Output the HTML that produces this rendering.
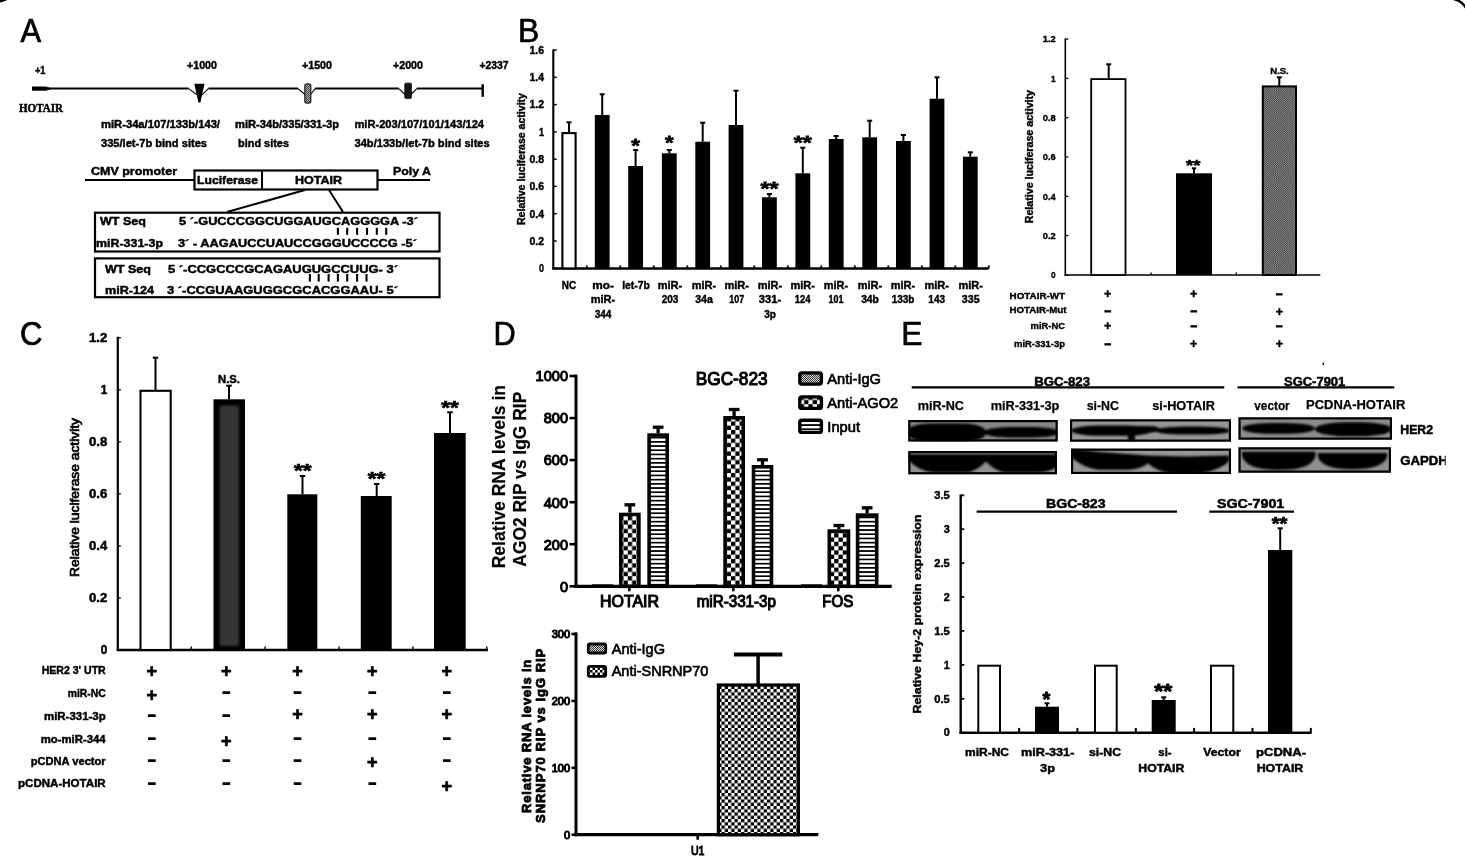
<!DOCTYPE html>
<html><head><meta charset="utf-8"><title>Figure</title>
<style>html,body{margin:0;padding:0;background:#fff}body{width:1465px;height:867px;overflow:hidden}svg{display:block}text{fill:#000}</style>
</head><body>
<svg width="1465" height="867" viewBox="0 0 1465 867">
<rect width="1465" height="867" fill="#fff"/>
<defs>
<filter id="blur12" x="-10%" y="-20%" width="120%" height="140%"><feGaussianBlur stdDeviation="1.3"/></filter>
<filter id="blur1" x="-10%" y="-10%" width="120%" height="120%"><feGaussianBlur stdDeviation="1"/></filter>
<pattern id="hatchA" width="2" height="2" patternUnits="userSpaceOnUse"><rect width="2" height="2" fill="#aaa"/><rect width="1" height="1" fill="#444"/><rect x="1" y="1" width="1" height="1" fill="#444"/></pattern>
<pattern id="hatchB" width="2.2" height="2.2" patternUnits="userSpaceOnUse"><rect width="2.2" height="2.2" fill="#a6a6a6"/><rect width="1.1" height="1.1" fill="#2a2a2a"/><rect x="1.1" y="1.1" width="1.1" height="1.1" fill="#2a2a2a"/></pattern>
<pattern id="igg" width="2" height="2" patternUnits="userSpaceOnUse"><rect width="2" height="2" fill="#ddd"/><rect width="1" height="1" fill="#333"/><rect x="1" y="1" width="1" height="1" fill="#333"/></pattern>
<pattern id="chk4" width="8.6" height="8.6" patternUnits="userSpaceOnUse"><rect width="8.6" height="8.6" fill="#fff"/><rect width="4.3" height="4.3" fill="#000"/><rect x="4.3" y="4.3" width="4.3" height="4.3" fill="#000"/></pattern>
<pattern id="chk2" width="6.5" height="6.5" patternUnits="userSpaceOnUse"><rect width="6.5" height="6.5" fill="#fff"/><rect width="3.25" height="3.25" fill="#000"/><rect x="3.25" y="3.25" width="3.25" height="3.25" fill="#000"/></pattern>
<pattern id="chk2b" width="5" height="5" patternUnits="userSpaceOnUse"><rect width="5" height="5" fill="#fff"/><rect width="2.5" height="2.5" fill="#000"/><rect x="2.5" y="2.5" width="2.5" height="2.5" fill="#000"/></pattern>
<pattern id="stripes" width="4.2" height="4.2" patternUnits="userSpaceOnUse"><rect width="4.2" height="4.2" fill="#fff"/><rect width="4.2" height="1.7" fill="#000"/></pattern>
</defs>
<path d="M-2,1.5 Q3,1 7,-1" fill="none" stroke="#000" stroke-width="2.4"/>
<path d="M1454,-1 Q1462,1 1466,8" fill="none" stroke="#000" stroke-width="2.4"/>
<g id="panelA">
<text x="20.4" y="41.9" font-size="33.2" font-weight="normal" font-family='"Liberation Sans", sans-serif' textLength="20.6" lengthAdjust="spacingAndGlyphs" stroke="#000" stroke-width="0.7">A</text>
<text x="35.0" y="74.3" font-size="10.5" font-weight="bold" font-family='"Liberation Sans", sans-serif' textLength="10.5" lengthAdjust="spacingAndGlyphs" stroke="#000" stroke-width="0.42">+1</text>
<text x="187.0" y="69.3" font-size="10.5" font-weight="bold" font-family='"Liberation Sans", sans-serif' textLength="30.0" lengthAdjust="spacingAndGlyphs" stroke="#000" stroke-width="0.42">+1000</text>
<text x="302.0" y="69.3" font-size="10.5" font-weight="bold" font-family='"Liberation Sans", sans-serif' textLength="30.0" lengthAdjust="spacingAndGlyphs" stroke="#000" stroke-width="0.42">+1500</text>
<text x="393.0" y="69.3" font-size="10.5" font-weight="bold" font-family='"Liberation Sans", sans-serif' textLength="30.0" lengthAdjust="spacingAndGlyphs" stroke="#000" stroke-width="0.42">+2000</text>
<text x="479.5" y="69.3" font-size="10.5" font-weight="bold" font-family='"Liberation Sans", sans-serif' textLength="29.0" lengthAdjust="spacingAndGlyphs" stroke="#000" stroke-width="0.42">+2337</text>
<path d="M32,88.6 H188.7 M208.4,88.6 H298 M315.2,88.6 H398.8 M416.8,88.6 H483" fill="none" stroke="#000" stroke-width="2" />
<path d="M188.7,88.6 L197,94.8 M202,94.8 L208.4,88.6 M298,88.6 L305,94.5 M310.5,94.5 L315.2,88.6 M398.8,88.6 L405,94.5 M411,94.5 L416.8,88.6" fill="none" stroke="#000" stroke-width="1.1" />
<polygon points="32,86.6 46,86.6 52,88.7 46,90.8 32,90.8" fill="#000"/>
<polygon points="194.3,83.7 204.5,83.7 200.4,102.5 198.4,102.5" fill="#000"/>
<rect x="304.8" y="83.9" width="6.0" height="19.2" fill="url(#hatchA)" stroke="#222" stroke-width="1.2" rx="2"/>
<rect x="404.8" y="83.2" width="6.6" height="15.2" fill="#151515" stroke="#000" stroke-width="0.8" rx="1"/>
<line x1="482.7" y1="84.2" x2="482.7" y2="96.8" stroke="#000" stroke-width="2.4" />
<text x="19.0" y="112.0" font-size="12" font-weight="bold" font-family='"Liberation Serif", serif' textLength="44.0" lengthAdjust="spacingAndGlyphs" stroke="#000" stroke-width="0.48">HOTAIR</text>
<text x="101.0" y="128.0" font-size="11" font-weight="bold" font-family='"Liberation Sans", sans-serif' textLength="119.0" lengthAdjust="spacingAndGlyphs" stroke="#000" stroke-width="0.44">miR-34a/107/133b/143/</text>
<text x="101.0" y="147.0" font-size="11" font-weight="bold" font-family='"Liberation Sans", sans-serif' textLength="106.0" lengthAdjust="spacingAndGlyphs" stroke="#000" stroke-width="0.44">335/let-7b bind sites</text>
<text x="235.0" y="128.0" font-size="11" font-weight="bold" font-family='"Liberation Sans", sans-serif' textLength="104.0" lengthAdjust="spacingAndGlyphs" stroke="#000" stroke-width="0.44">miR-34b/335/331-3p</text>
<text x="238.0" y="147.0" font-size="11" font-weight="bold" font-family='"Liberation Sans", sans-serif' textLength="51.0" lengthAdjust="spacingAndGlyphs" stroke="#000" stroke-width="0.44">bind sites</text>
<text x="354.5" y="128.0" font-size="11" font-weight="bold" font-family='"Liberation Sans", sans-serif' textLength="129.5" lengthAdjust="spacingAndGlyphs" stroke="#000" stroke-width="0.44">miR-203/107/101/143/124</text>
<text x="354.5" y="147.0" font-size="11" font-weight="bold" font-family='"Liberation Sans", sans-serif' textLength="135.2" lengthAdjust="spacingAndGlyphs" stroke="#000" stroke-width="0.44">34b/133b/let-7b bind sites</text>
<text x="91.0" y="174.6" font-size="11" font-weight="bold" font-family='"Liberation Sans", sans-serif' textLength="86.0" lengthAdjust="spacingAndGlyphs" stroke="#000" stroke-width="0.44">CMV promoter</text>
<text x="393.0" y="174.6" font-size="11" font-weight="bold" font-family='"Liberation Sans", sans-serif' textLength="38.0" lengthAdjust="spacingAndGlyphs" stroke="#000" stroke-width="0.44">Poly A</text>
<line x1="85.0" y1="180.0" x2="194.0" y2="180.0" stroke="#000" stroke-width="2" />
<line x1="378.0" y1="180.0" x2="430.0" y2="180.0" stroke="#000" stroke-width="2" />
<rect x="194.5" y="170.5" width="183.0" height="19.0" fill="#fff" stroke="#000" stroke-width="2.2" />
<line x1="262.0" y1="170.0" x2="262.0" y2="190.0" stroke="#000" stroke-width="2" />
<text x="197.0" y="184.3" font-size="11.5" font-weight="bold" font-family='"Liberation Sans", sans-serif' textLength="61.0" lengthAdjust="spacingAndGlyphs" stroke="#000" stroke-width="0.46">Luciferase</text>
<text x="295.0" y="184.3" font-size="11.5" font-weight="bold" font-family='"Liberation Sans", sans-serif' textLength="47.0" lengthAdjust="spacingAndGlyphs" stroke="#000" stroke-width="0.46">HOTAIR</text>
<line x1="305.0" y1="190.0" x2="227.0" y2="212.0" stroke="#000" stroke-width="2" />
<line x1="329.0" y1="190.0" x2="343.0" y2="212.0" stroke="#000" stroke-width="2" />
<rect x="95.0" y="212.7" width="344.5" height="38.8" fill="#fff" stroke="#000" stroke-width="2.2" />
<rect x="95.0" y="258.4" width="344.5" height="38.8" fill="#fff" stroke="#000" stroke-width="2.2" />
<text x="100.0" y="225.0" font-size="11.5" font-weight="bold" font-family='"Liberation Sans", sans-serif' textLength="46.0" lengthAdjust="spacingAndGlyphs" stroke="#000" stroke-width="0.46">WT Seq</text>
<text x="179.0" y="225.0" font-size="11.5" font-weight="bold" font-family='"Liberation Sans", sans-serif' textLength="239.0" lengthAdjust="spacingAndGlyphs" stroke="#000" stroke-width="0.46">5 ´-GUCCCGGCUGGAUGCAGGGGA -3´</text>
<line x1="337.9" y1="227.8" x2="337.9" y2="234.8" stroke="#000" stroke-width="2.1" />
<line x1="347.2" y1="227.8" x2="347.2" y2="234.8" stroke="#000" stroke-width="2.1" />
<line x1="357.1" y1="227.8" x2="357.1" y2="234.8" stroke="#000" stroke-width="2.1" />
<line x1="367.0" y1="227.8" x2="367.0" y2="234.8" stroke="#000" stroke-width="2.1" />
<line x1="376.8" y1="227.8" x2="376.8" y2="234.8" stroke="#000" stroke-width="2.1" />
<line x1="386.2" y1="227.8" x2="386.2" y2="234.8" stroke="#000" stroke-width="2.1" />
<text x="96.0" y="247.0" font-size="11.5" font-weight="bold" font-family='"Liberation Sans", sans-serif' textLength="67.0" lengthAdjust="spacingAndGlyphs" stroke="#000" stroke-width="0.46">miR-331-3p</text>
<text x="178.0" y="247.0" font-size="11.5" font-weight="bold" font-family='"Liberation Sans", sans-serif' textLength="239.0" lengthAdjust="spacingAndGlyphs" stroke="#000" stroke-width="0.46">3´ - AAGAUCCUAUCCGGGUCCCCG -5´</text>
<text x="105.0" y="273.0" font-size="11.5" font-weight="bold" font-family='"Liberation Sans", sans-serif' textLength="46.0" lengthAdjust="spacingAndGlyphs" stroke="#000" stroke-width="0.46">WT Seq</text>
<text x="168.0" y="273.0" font-size="11.5" font-weight="bold" font-family='"Liberation Sans", sans-serif' textLength="230.0" lengthAdjust="spacingAndGlyphs" stroke="#000" stroke-width="0.46">5 ´-CCGCCCGCAGAUGUGCCUUG- 3´</text>
<line x1="309.9" y1="274.0" x2="309.9" y2="281.6" stroke="#000" stroke-width="2.1" />
<line x1="318.7" y1="274.0" x2="318.7" y2="281.6" stroke="#000" stroke-width="2.1" />
<line x1="328.6" y1="274.0" x2="328.6" y2="281.6" stroke="#000" stroke-width="2.1" />
<line x1="337.9" y1="274.0" x2="337.9" y2="281.6" stroke="#000" stroke-width="2.1" />
<line x1="347.2" y1="274.0" x2="347.2" y2="281.6" stroke="#000" stroke-width="2.1" />
<line x1="357.1" y1="274.0" x2="357.1" y2="281.6" stroke="#000" stroke-width="2.1" />
<line x1="366.5" y1="274.0" x2="366.5" y2="281.6" stroke="#000" stroke-width="2.1" />
<text x="105.0" y="293.5" font-size="11.5" font-weight="bold" font-family='"Liberation Sans", sans-serif' textLength="49.0" lengthAdjust="spacingAndGlyphs" stroke="#000" stroke-width="0.46">miR-124</text>
<text x="167.0" y="293.5" font-size="11.5" font-weight="bold" font-family='"Liberation Sans", sans-serif' textLength="231.0" lengthAdjust="spacingAndGlyphs" stroke="#000" stroke-width="0.46">3 ´-CCGUAAGUGGCGCACGGAAU- 5´</text>
</g>
<g id="panelB">
<text x="517.9" y="42.0" font-size="33.2" font-weight="normal" font-family='"Liberation Sans", sans-serif' textLength="21.2" lengthAdjust="spacingAndGlyphs" stroke="#000" stroke-width="0.7">B</text>
<line x1="553.3" y1="49.5" x2="553.3" y2="269.4" stroke="#000" stroke-width="2.1" />
<line x1="552.3" y1="268.4" x2="988.8" y2="268.4" stroke="#000" stroke-width="2.5" />
<line x1="553.3" y1="50.0" x2="556.8" y2="50.0" stroke="#000" stroke-width="1.4" />
<text x="544.0" y="53.8" font-size="11" font-weight="bold" font-family='"Liberation Sans", sans-serif' text-anchor="end" textLength="14.5" lengthAdjust="spacingAndGlyphs" stroke="#000" stroke-width="0.44">1.6</text>
<line x1="553.3" y1="77.3" x2="556.8" y2="77.3" stroke="#000" stroke-width="1.4" />
<text x="544.0" y="81.1" font-size="11" font-weight="bold" font-family='"Liberation Sans", sans-serif' text-anchor="end" textLength="14.5" lengthAdjust="spacingAndGlyphs" stroke="#000" stroke-width="0.44">1.4</text>
<line x1="553.3" y1="104.6" x2="556.8" y2="104.6" stroke="#000" stroke-width="1.4" />
<text x="544.0" y="108.4" font-size="11" font-weight="bold" font-family='"Liberation Sans", sans-serif' text-anchor="end" textLength="14.5" lengthAdjust="spacingAndGlyphs" stroke="#000" stroke-width="0.44">1.2</text>
<line x1="553.3" y1="131.9" x2="556.8" y2="131.9" stroke="#000" stroke-width="1.4" />
<text x="544.0" y="135.7" font-size="11" font-weight="bold" font-family='"Liberation Sans", sans-serif' text-anchor="end" textLength="5.0" lengthAdjust="spacingAndGlyphs" stroke="#000" stroke-width="0.44">1</text>
<line x1="553.3" y1="159.2" x2="556.8" y2="159.2" stroke="#000" stroke-width="1.4" />
<text x="544.0" y="163.0" font-size="11" font-weight="bold" font-family='"Liberation Sans", sans-serif' text-anchor="end" textLength="14.5" lengthAdjust="spacingAndGlyphs" stroke="#000" stroke-width="0.44">0.8</text>
<line x1="553.3" y1="186.4" x2="556.8" y2="186.4" stroke="#000" stroke-width="1.4" />
<text x="544.0" y="190.2" font-size="11" font-weight="bold" font-family='"Liberation Sans", sans-serif' text-anchor="end" textLength="14.5" lengthAdjust="spacingAndGlyphs" stroke="#000" stroke-width="0.44">0.6</text>
<line x1="553.3" y1="213.7" x2="556.8" y2="213.7" stroke="#000" stroke-width="1.4" />
<text x="544.0" y="217.5" font-size="11" font-weight="bold" font-family='"Liberation Sans", sans-serif' text-anchor="end" textLength="14.5" lengthAdjust="spacingAndGlyphs" stroke="#000" stroke-width="0.44">0.4</text>
<line x1="553.3" y1="241.0" x2="556.8" y2="241.0" stroke="#000" stroke-width="1.4" />
<text x="544.0" y="244.8" font-size="11" font-weight="bold" font-family='"Liberation Sans", sans-serif' text-anchor="end" textLength="14.5" lengthAdjust="spacingAndGlyphs" stroke="#000" stroke-width="0.44">0.2</text>
<line x1="553.3" y1="268.3" x2="556.8" y2="268.3" stroke="#000" stroke-width="1.4" />
<text x="544.0" y="272.1" font-size="11" font-weight="bold" font-family='"Liberation Sans", sans-serif' text-anchor="end" textLength="5.0" lengthAdjust="spacingAndGlyphs" stroke="#000" stroke-width="0.44">0</text>
<text x="524.5" y="225.0" font-size="10" font-weight="bold" font-family='"Liberation Sans", sans-serif' textLength="132.0" lengthAdjust="spacingAndGlyphs" transform="rotate(-90 524.5 225.0)" stroke="#000" stroke-width="0.40">Relative luciferase activity</text>
<line x1="569.0" y1="122.3" x2="569.0" y2="132.3" stroke="#000" stroke-width="2" />
<line x1="566.5" y1="122.3" x2="571.5" y2="122.3" stroke="#000" stroke-width="2" />
<rect x="562.4" y="133.1" width="13.2" height="135.3" fill="#fff" stroke="#000" stroke-width="2.1" />
<line x1="602.2" y1="94.3" x2="602.2" y2="115.0" stroke="#000" stroke-width="2" />
<line x1="599.7" y1="94.3" x2="604.7" y2="94.3" stroke="#000" stroke-width="2" />
<rect x="594.8" y="115.0" width="14.8" height="153.4" fill="#000" />
<line x1="635.6" y1="150.0" x2="635.6" y2="166.0" stroke="#000" stroke-width="2" />
<line x1="633.1" y1="150.0" x2="638.1" y2="150.0" stroke="#000" stroke-width="2" />
<rect x="628.2" y="166.0" width="14.8" height="102.4" fill="#000" />
<line x1="669.3" y1="150.0" x2="669.3" y2="153.3" stroke="#000" stroke-width="2" />
<line x1="666.8" y1="150.0" x2="671.8" y2="150.0" stroke="#000" stroke-width="2" />
<rect x="661.9" y="153.3" width="14.8" height="115.1" fill="#000" />
<line x1="702.7" y1="122.7" x2="702.7" y2="141.7" stroke="#000" stroke-width="2" />
<line x1="700.2" y1="122.7" x2="705.2" y2="122.7" stroke="#000" stroke-width="2" />
<rect x="695.3" y="141.7" width="14.8" height="126.7" fill="#000" />
<line x1="736.0" y1="90.7" x2="736.0" y2="125.0" stroke="#000" stroke-width="2" />
<line x1="733.5" y1="90.7" x2="738.5" y2="90.7" stroke="#000" stroke-width="2" />
<rect x="728.6" y="125.0" width="14.8" height="143.4" fill="#000" />
<line x1="769.4" y1="194.0" x2="769.4" y2="197.3" stroke="#000" stroke-width="2" />
<line x1="766.9" y1="194.0" x2="771.9" y2="194.0" stroke="#000" stroke-width="2" />
<rect x="762.0" y="197.3" width="14.8" height="71.1" fill="#000" />
<line x1="802.8" y1="147.7" x2="802.8" y2="173.3" stroke="#000" stroke-width="2" />
<line x1="800.3" y1="147.7" x2="805.3" y2="147.7" stroke="#000" stroke-width="2" />
<rect x="795.4" y="173.3" width="14.8" height="95.1" fill="#000" />
<line x1="836.2" y1="136.0" x2="836.2" y2="139.0" stroke="#000" stroke-width="2" />
<line x1="833.7" y1="136.0" x2="838.7" y2="136.0" stroke="#000" stroke-width="2" />
<rect x="828.8" y="139.0" width="14.8" height="129.4" fill="#000" />
<line x1="869.7" y1="120.7" x2="869.7" y2="137.3" stroke="#000" stroke-width="2" />
<line x1="867.2" y1="120.7" x2="872.2" y2="120.7" stroke="#000" stroke-width="2" />
<rect x="862.3" y="137.3" width="14.8" height="131.1" fill="#000" />
<line x1="903.4" y1="135.0" x2="903.4" y2="141.0" stroke="#000" stroke-width="2" />
<line x1="900.9" y1="135.0" x2="905.9" y2="135.0" stroke="#000" stroke-width="2" />
<rect x="896.0" y="141.0" width="14.8" height="127.4" fill="#000" />
<line x1="937.0" y1="77.3" x2="937.0" y2="98.7" stroke="#000" stroke-width="2" />
<line x1="934.5" y1="77.3" x2="939.5" y2="77.3" stroke="#000" stroke-width="2" />
<rect x="929.6" y="98.7" width="14.8" height="169.7" fill="#000" />
<line x1="970.3" y1="152.3" x2="970.3" y2="156.7" stroke="#000" stroke-width="2" />
<line x1="967.8" y1="152.3" x2="972.8" y2="152.3" stroke="#000" stroke-width="2" />
<rect x="962.9" y="156.7" width="14.8" height="111.7" fill="#000" />
<line x1="586.8" y1="268.4" x2="586.8" y2="265.4" stroke="#000" stroke-width="1.8" />
<line x1="620.3" y1="268.4" x2="620.3" y2="265.4" stroke="#000" stroke-width="1.8" />
<line x1="653.8" y1="268.4" x2="653.8" y2="265.4" stroke="#000" stroke-width="1.8" />
<line x1="687.3" y1="268.4" x2="687.3" y2="265.4" stroke="#000" stroke-width="1.8" />
<line x1="720.8" y1="268.4" x2="720.8" y2="265.4" stroke="#000" stroke-width="1.8" />
<line x1="754.3" y1="268.4" x2="754.3" y2="265.4" stroke="#000" stroke-width="1.8" />
<line x1="787.8" y1="268.4" x2="787.8" y2="265.4" stroke="#000" stroke-width="1.8" />
<line x1="821.3" y1="268.4" x2="821.3" y2="265.4" stroke="#000" stroke-width="1.8" />
<line x1="854.8" y1="268.4" x2="854.8" y2="265.4" stroke="#000" stroke-width="1.8" />
<line x1="888.3" y1="268.4" x2="888.3" y2="265.4" stroke="#000" stroke-width="1.8" />
<line x1="921.8" y1="268.4" x2="921.8" y2="265.4" stroke="#000" stroke-width="1.8" />
<line x1="955.3" y1="268.4" x2="955.3" y2="265.4" stroke="#000" stroke-width="1.8" />
<line x1="988.8" y1="268.4" x2="988.8" y2="265.4" stroke="#000" stroke-width="1.8" />
<text x="635.6" y="151.6" font-size="19" font-weight="bold" font-family='"Liberation Sans", sans-serif' text-anchor="middle" textLength="8.6" lengthAdjust="spacingAndGlyphs" stroke="#000" stroke-width="0.76">*</text>
<text x="669.3" y="148.6" font-size="19" font-weight="bold" font-family='"Liberation Sans", sans-serif' text-anchor="middle" textLength="8.6" lengthAdjust="spacingAndGlyphs" stroke="#000" stroke-width="0.76">*</text>
<text x="769.4" y="195.1" font-size="19" font-weight="bold" font-family='"Liberation Sans", sans-serif' text-anchor="middle" textLength="18.0" lengthAdjust="spacingAndGlyphs" stroke="#000" stroke-width="0.76">**</text>
<text x="802.8" y="148.6" font-size="19" font-weight="bold" font-family='"Liberation Sans", sans-serif' text-anchor="middle" textLength="18.0" lengthAdjust="spacingAndGlyphs" stroke="#000" stroke-width="0.76">**</text>
<text x="569.0" y="288.8" font-size="10" font-weight="bold" font-family='"Liberation Sans", sans-serif' text-anchor="middle" textLength="14.3" lengthAdjust="spacingAndGlyphs" stroke="#000" stroke-width="0.40">NC</text>
<text x="603.0" y="288.8" font-size="10" font-weight="bold" font-family='"Liberation Sans", sans-serif' text-anchor="middle" textLength="21.7" lengthAdjust="spacingAndGlyphs" stroke="#000" stroke-width="0.40">mo-</text>
<text x="603.0" y="303.3" font-size="10" font-weight="bold" font-family='"Liberation Sans", sans-serif' text-anchor="middle" textLength="24.5" lengthAdjust="spacingAndGlyphs" stroke="#000" stroke-width="0.40">miR-</text>
<text x="603.0" y="317.8" font-size="10" font-weight="bold" font-family='"Liberation Sans", sans-serif' text-anchor="middle" textLength="16.7" lengthAdjust="spacingAndGlyphs" stroke="#000" stroke-width="0.40">344</text>
<text x="636.0" y="288.8" font-size="10" font-weight="bold" font-family='"Liberation Sans", sans-serif' text-anchor="middle" textLength="27.7" lengthAdjust="spacingAndGlyphs" stroke="#000" stroke-width="0.40">let-7b</text>
<text x="670.0" y="288.8" font-size="10" font-weight="bold" font-family='"Liberation Sans", sans-serif' text-anchor="middle" textLength="24.5" lengthAdjust="spacingAndGlyphs" stroke="#000" stroke-width="0.40">miR-</text>
<text x="670.0" y="303.3" font-size="10" font-weight="bold" font-family='"Liberation Sans", sans-serif' text-anchor="middle" textLength="16.7" lengthAdjust="spacingAndGlyphs" stroke="#000" stroke-width="0.40">203</text>
<text x="704.0" y="288.8" font-size="10" font-weight="bold" font-family='"Liberation Sans", sans-serif' text-anchor="middle" textLength="24.5" lengthAdjust="spacingAndGlyphs" stroke="#000" stroke-width="0.40">miR-</text>
<text x="704.0" y="303.3" font-size="10" font-weight="bold" font-family='"Liberation Sans", sans-serif' text-anchor="middle" textLength="17.7" lengthAdjust="spacingAndGlyphs" stroke="#000" stroke-width="0.40">34a</text>
<text x="736.7" y="288.8" font-size="10" font-weight="bold" font-family='"Liberation Sans", sans-serif' text-anchor="middle" textLength="24.5" lengthAdjust="spacingAndGlyphs" stroke="#000" stroke-width="0.40">miR-</text>
<text x="736.7" y="303.3" font-size="10" font-weight="bold" font-family='"Liberation Sans", sans-serif' text-anchor="middle" textLength="14.7" lengthAdjust="spacingAndGlyphs" stroke="#000" stroke-width="0.40">107</text>
<text x="770.0" y="288.8" font-size="10" font-weight="bold" font-family='"Liberation Sans", sans-serif' text-anchor="middle" textLength="24.5" lengthAdjust="spacingAndGlyphs" stroke="#000" stroke-width="0.40">miR-</text>
<text x="770.0" y="303.3" font-size="10" font-weight="bold" font-family='"Liberation Sans", sans-serif' text-anchor="middle" textLength="22.3" lengthAdjust="spacingAndGlyphs" stroke="#000" stroke-width="0.40">331-</text>
<text x="770.0" y="317.8" font-size="10" font-weight="bold" font-family='"Liberation Sans", sans-serif' text-anchor="middle" textLength="11.7" lengthAdjust="spacingAndGlyphs" stroke="#000" stroke-width="0.40">3p</text>
<text x="802.7" y="288.8" font-size="10" font-weight="bold" font-family='"Liberation Sans", sans-serif' text-anchor="middle" textLength="24.5" lengthAdjust="spacingAndGlyphs" stroke="#000" stroke-width="0.40">miR-</text>
<text x="802.7" y="303.3" font-size="10" font-weight="bold" font-family='"Liberation Sans", sans-serif' text-anchor="middle" textLength="15.7" lengthAdjust="spacingAndGlyphs" stroke="#000" stroke-width="0.40">124</text>
<text x="836.0" y="288.8" font-size="10" font-weight="bold" font-family='"Liberation Sans", sans-serif' text-anchor="middle" textLength="24.5" lengthAdjust="spacingAndGlyphs" stroke="#000" stroke-width="0.40">miR-</text>
<text x="836.0" y="303.3" font-size="10" font-weight="bold" font-family='"Liberation Sans", sans-serif' text-anchor="middle" textLength="15.0" lengthAdjust="spacingAndGlyphs" stroke="#000" stroke-width="0.40">101</text>
<text x="870.0" y="288.8" font-size="10" font-weight="bold" font-family='"Liberation Sans", sans-serif' text-anchor="middle" textLength="24.5" lengthAdjust="spacingAndGlyphs" stroke="#000" stroke-width="0.40">miR-</text>
<text x="870.0" y="303.3" font-size="10" font-weight="bold" font-family='"Liberation Sans", sans-serif' text-anchor="middle" textLength="17.7" lengthAdjust="spacingAndGlyphs" stroke="#000" stroke-width="0.40">34b</text>
<text x="903.0" y="288.8" font-size="10" font-weight="bold" font-family='"Liberation Sans", sans-serif' text-anchor="middle" textLength="24.5" lengthAdjust="spacingAndGlyphs" stroke="#000" stroke-width="0.40">miR-</text>
<text x="903.0" y="303.3" font-size="10" font-weight="bold" font-family='"Liberation Sans", sans-serif' text-anchor="middle" textLength="22.7" lengthAdjust="spacingAndGlyphs" stroke="#000" stroke-width="0.40">133b</text>
<text x="936.7" y="288.8" font-size="10" font-weight="bold" font-family='"Liberation Sans", sans-serif' text-anchor="middle" textLength="24.5" lengthAdjust="spacingAndGlyphs" stroke="#000" stroke-width="0.40">miR-</text>
<text x="936.7" y="303.3" font-size="10" font-weight="bold" font-family='"Liberation Sans", sans-serif' text-anchor="middle" textLength="16.7" lengthAdjust="spacingAndGlyphs" stroke="#000" stroke-width="0.40">143</text>
<text x="970.7" y="288.8" font-size="10" font-weight="bold" font-family='"Liberation Sans", sans-serif' text-anchor="middle" textLength="24.5" lengthAdjust="spacingAndGlyphs" stroke="#000" stroke-width="0.40">miR-</text>
<text x="970.7" y="303.3" font-size="10" font-weight="bold" font-family='"Liberation Sans", sans-serif' text-anchor="middle" textLength="17.7" lengthAdjust="spacingAndGlyphs" stroke="#000" stroke-width="0.40">335</text>
<line x1="1065.3" y1="38.5" x2="1065.3" y2="275.8" stroke="#000" stroke-width="1.6" />
<line x1="1064.5" y1="275.0" x2="1320.3" y2="275.0" stroke="#000" stroke-width="1.6" />
<line x1="1065.3" y1="39.0" x2="1068.3" y2="39.0" stroke="#000" stroke-width="1.3" />
<text x="1055.7" y="42.3" font-size="9.5" font-weight="bold" font-family='"Liberation Sans", sans-serif' text-anchor="end" textLength="13.0" lengthAdjust="spacingAndGlyphs" stroke="#000" stroke-width="0.38">1.2</text>
<line x1="1065.3" y1="78.3" x2="1068.3" y2="78.3" stroke="#000" stroke-width="1.3" />
<text x="1055.7" y="81.6" font-size="9.5" font-weight="bold" font-family='"Liberation Sans", sans-serif' text-anchor="end" textLength="4.6" lengthAdjust="spacingAndGlyphs" stroke="#000" stroke-width="0.38">1</text>
<line x1="1065.3" y1="117.7" x2="1068.3" y2="117.7" stroke="#000" stroke-width="1.3" />
<text x="1055.7" y="121.0" font-size="9.5" font-weight="bold" font-family='"Liberation Sans", sans-serif' text-anchor="end" textLength="13.0" lengthAdjust="spacingAndGlyphs" stroke="#000" stroke-width="0.38">0.8</text>
<line x1="1065.3" y1="157.0" x2="1068.3" y2="157.0" stroke="#000" stroke-width="1.3" />
<text x="1055.7" y="160.3" font-size="9.5" font-weight="bold" font-family='"Liberation Sans", sans-serif' text-anchor="end" textLength="13.0" lengthAdjust="spacingAndGlyphs" stroke="#000" stroke-width="0.38">0.6</text>
<line x1="1065.3" y1="196.3" x2="1068.3" y2="196.3" stroke="#000" stroke-width="1.3" />
<text x="1055.7" y="199.6" font-size="9.5" font-weight="bold" font-family='"Liberation Sans", sans-serif' text-anchor="end" textLength="13.0" lengthAdjust="spacingAndGlyphs" stroke="#000" stroke-width="0.38">0.4</text>
<line x1="1065.3" y1="235.6" x2="1068.3" y2="235.6" stroke="#000" stroke-width="1.3" />
<text x="1055.7" y="238.9" font-size="9.5" font-weight="bold" font-family='"Liberation Sans", sans-serif' text-anchor="end" textLength="13.0" lengthAdjust="spacingAndGlyphs" stroke="#000" stroke-width="0.38">0.2</text>
<line x1="1065.3" y1="275.0" x2="1068.3" y2="275.0" stroke="#000" stroke-width="1.3" />
<text x="1055.7" y="278.3" font-size="9.5" font-weight="bold" font-family='"Liberation Sans", sans-serif' text-anchor="end" textLength="4.6" lengthAdjust="spacingAndGlyphs" stroke="#000" stroke-width="0.38">0</text>
<text x="1033.5" y="223.3" font-size="10" font-weight="bold" font-family='"Liberation Sans", sans-serif' textLength="133.3" lengthAdjust="spacingAndGlyphs" transform="rotate(-90 1033.5 223.3)" stroke="#000" stroke-width="0.40">Relative luciferase activity</text>
<line x1="1151.0" y1="275.0" x2="1151.0" y2="272.5" stroke="#000" stroke-width="1.3" />
<line x1="1236.3" y1="275.0" x2="1236.3" y2="272.5" stroke="#000" stroke-width="1.3" />
<line x1="1108.7" y1="64.3" x2="1108.7" y2="78.3" stroke="#000" stroke-width="2" />
<line x1="1106.2" y1="64.3" x2="1111.2" y2="64.3" stroke="#000" stroke-width="2" />
<rect x="1091.2" y="79.1" width="34.3" height="195.9" fill="#fff" stroke="#000" stroke-width="1.8" />
<line x1="1194.0" y1="168.3" x2="1194.0" y2="173.3" stroke="#000" stroke-width="2" />
<line x1="1191.8" y1="168.3" x2="1196.2" y2="168.3" stroke="#000" stroke-width="2" />
<rect x="1176.0" y="173.3" width="36.0" height="101.7" fill="#000" />
<line x1="1279.3" y1="77.3" x2="1279.3" y2="86.0" stroke="#000" stroke-width="2" />
<line x1="1276.8" y1="77.3" x2="1281.8" y2="77.3" stroke="#000" stroke-width="2" />
<rect x="1262.8" y="86.4" width="33.2" height="188.6" fill="url(#hatchB)" stroke="#000" stroke-width="2" />
<text x="1193.2" y="170.3" font-size="15" font-weight="bold" font-family='"Liberation Sans", sans-serif' text-anchor="middle" textLength="14.3" lengthAdjust="spacingAndGlyphs" stroke="#000" stroke-width="0.60">**</text>
<text x="1279.5" y="74.0" font-size="8.5" font-weight="bold" font-family='"Liberation Sans", sans-serif' text-anchor="middle" textLength="18.4" lengthAdjust="spacingAndGlyphs" stroke="#000" stroke-width="0.34">N.S.</text>
<text x="1065.0" y="299.1" font-size="9" font-weight="bold" font-family='"Liberation Sans", sans-serif' text-anchor="end" textLength="55.4" lengthAdjust="spacingAndGlyphs" stroke="#000" stroke-width="0.36">HOTAIR-WT</text>
<text x="1066.5" y="313.1" font-size="9" font-weight="bold" font-family='"Liberation Sans", sans-serif' text-anchor="end" textLength="57.0" lengthAdjust="spacingAndGlyphs" stroke="#000" stroke-width="0.36">HOTAIR-Mut</text>
<text x="1065.0" y="329.1" font-size="9" font-weight="bold" font-family='"Liberation Sans", sans-serif' text-anchor="end" textLength="34.4" lengthAdjust="spacingAndGlyphs" stroke="#000" stroke-width="0.36">miR-NC</text>
<text x="1065.0" y="347.1" font-size="9" font-weight="bold" font-family='"Liberation Sans", sans-serif' text-anchor="end" textLength="51.0" lengthAdjust="spacingAndGlyphs" stroke="#000" stroke-width="0.36">miR-331-3p</text>
<text x="1107.7" y="298.2" font-size="12.5" font-weight="bold" font-family='"Liberation Sans", sans-serif' text-anchor="middle" stroke="#000" stroke-width="0.50">+</text>
<text x="1193.7" y="298.2" font-size="12.5" font-weight="bold" font-family='"Liberation Sans", sans-serif' text-anchor="middle" stroke="#000" stroke-width="0.50">+</text>
<text x="1279.3" y="297.7" font-size="11" font-weight="bold" font-family='"Liberation Sans", sans-serif' text-anchor="middle" stroke="#000" stroke-width="1.2">−</text>
<text x="1107.7" y="315.4" font-size="11" font-weight="bold" font-family='"Liberation Sans", sans-serif' text-anchor="middle" stroke="#000" stroke-width="1.2">−</text>
<text x="1193.7" y="315.4" font-size="11" font-weight="bold" font-family='"Liberation Sans", sans-serif' text-anchor="middle" stroke="#000" stroke-width="1.2">−</text>
<text x="1279.3" y="315.9" font-size="12.5" font-weight="bold" font-family='"Liberation Sans", sans-serif' text-anchor="middle" stroke="#000" stroke-width="0.50">+</text>
<text x="1107.7" y="330.2" font-size="12.5" font-weight="bold" font-family='"Liberation Sans", sans-serif' text-anchor="middle" stroke="#000" stroke-width="0.50">+</text>
<text x="1193.7" y="329.7" font-size="11" font-weight="bold" font-family='"Liberation Sans", sans-serif' text-anchor="middle" stroke="#000" stroke-width="1.2">−</text>
<text x="1279.3" y="329.7" font-size="11" font-weight="bold" font-family='"Liberation Sans", sans-serif' text-anchor="middle" stroke="#000" stroke-width="1.2">−</text>
<text x="1107.7" y="347.7" font-size="11" font-weight="bold" font-family='"Liberation Sans", sans-serif' text-anchor="middle" stroke="#000" stroke-width="1.2">−</text>
<text x="1193.7" y="348.2" font-size="12.5" font-weight="bold" font-family='"Liberation Sans", sans-serif' text-anchor="middle" stroke="#000" stroke-width="0.50">+</text>
<text x="1279.3" y="348.2" font-size="12.5" font-weight="bold" font-family='"Liberation Sans", sans-serif' text-anchor="middle" stroke="#000" stroke-width="0.50">+</text>
</g>
<g id="panelC">
<text x="20.0" y="344.8" font-size="33.2" font-weight="normal" font-family='"Liberation Sans", sans-serif' textLength="22.4" lengthAdjust="spacingAndGlyphs" stroke="#000" stroke-width="0.7">C</text>
<line x1="117.8" y1="336.8" x2="117.8" y2="651.0" stroke="#000" stroke-width="2.2" />
<line x1="116.7" y1="650.0" x2="488.0" y2="650.0" stroke="#000" stroke-width="2.3" />
<line x1="117.3" y1="337.7" x2="120.8" y2="337.7" stroke="#000" stroke-width="1.4" />
<text x="107.3" y="342.1" font-size="12.5" font-weight="bold" font-family='"Liberation Sans", sans-serif' text-anchor="end" textLength="18.3" lengthAdjust="spacingAndGlyphs" stroke="#000" stroke-width="0.50">1.2</text>
<line x1="117.3" y1="389.8" x2="120.8" y2="389.8" stroke="#000" stroke-width="1.4" />
<text x="107.3" y="394.1" font-size="12.5" font-weight="bold" font-family='"Liberation Sans", sans-serif' text-anchor="end" textLength="6.5" lengthAdjust="spacingAndGlyphs" stroke="#000" stroke-width="0.50">1</text>
<line x1="117.3" y1="441.8" x2="120.8" y2="441.8" stroke="#000" stroke-width="1.4" />
<text x="107.3" y="446.2" font-size="12.5" font-weight="bold" font-family='"Liberation Sans", sans-serif' text-anchor="end" textLength="18.3" lengthAdjust="spacingAndGlyphs" stroke="#000" stroke-width="0.50">0.8</text>
<line x1="117.3" y1="493.8" x2="120.8" y2="493.8" stroke="#000" stroke-width="1.4" />
<text x="107.3" y="498.2" font-size="12.5" font-weight="bold" font-family='"Liberation Sans", sans-serif' text-anchor="end" textLength="18.3" lengthAdjust="spacingAndGlyphs" stroke="#000" stroke-width="0.50">0.6</text>
<line x1="117.3" y1="545.9" x2="120.8" y2="545.9" stroke="#000" stroke-width="1.4" />
<text x="107.3" y="550.3" font-size="12.5" font-weight="bold" font-family='"Liberation Sans", sans-serif' text-anchor="end" textLength="18.3" lengthAdjust="spacingAndGlyphs" stroke="#000" stroke-width="0.50">0.4</text>
<line x1="117.3" y1="598.0" x2="120.8" y2="598.0" stroke="#000" stroke-width="1.4" />
<text x="107.3" y="602.4" font-size="12.5" font-weight="bold" font-family='"Liberation Sans", sans-serif' text-anchor="end" textLength="18.3" lengthAdjust="spacingAndGlyphs" stroke="#000" stroke-width="0.50">0.2</text>
<line x1="117.3" y1="650.0" x2="120.8" y2="650.0" stroke="#000" stroke-width="1.4" />
<text x="107.3" y="654.4" font-size="12.5" font-weight="bold" font-family='"Liberation Sans", sans-serif' text-anchor="end" textLength="6.5" lengthAdjust="spacingAndGlyphs" stroke="#000" stroke-width="0.50">0</text>
<text x="79.3" y="577.0" font-size="12" font-weight="normal" font-family='"Liberation Sans", sans-serif' textLength="159.0" lengthAdjust="spacingAndGlyphs" transform="rotate(-90 79.3 577.0)" stroke="#000" stroke-width="0.7">Relative luciferase activity</text>
<line x1="191.2" y1="650.0" x2="191.2" y2="646.5" stroke="#000" stroke-width="1.4" />
<line x1="265.1" y1="650.0" x2="265.1" y2="646.5" stroke="#000" stroke-width="1.4" />
<line x1="339.0" y1="650.0" x2="339.0" y2="646.5" stroke="#000" stroke-width="1.4" />
<line x1="412.9" y1="650.0" x2="412.9" y2="646.5" stroke="#000" stroke-width="1.4" />
<line x1="486.8" y1="650.0" x2="486.8" y2="646.5" stroke="#000" stroke-width="1.4" />
<line x1="155.5" y1="357.7" x2="155.5" y2="390.0" stroke="#000" stroke-width="2" />
<line x1="152.8" y1="357.7" x2="158.2" y2="357.7" stroke="#000" stroke-width="2" />
<rect x="140.5" y="390.8" width="30.2" height="259.2" fill="#fff" stroke="#000" stroke-width="2.1" />
<line x1="229.0" y1="385.7" x2="229.0" y2="399.3" stroke="#000" stroke-width="2" />
<line x1="226.2" y1="385.7" x2="231.8" y2="385.7" stroke="#000" stroke-width="2" />
<rect x="213.5" y="399.3" width="31.5" height="250.7" fill="#000" />
<rect x="219.5" y="405.5" width="19.5" height="240.5" fill="#353535" rx="2" filter="url(#blur1)"/>
<line x1="302.5" y1="476.0" x2="302.5" y2="494.3" stroke="#000" stroke-width="2" />
<line x1="299.8" y1="476.0" x2="305.2" y2="476.0" stroke="#000" stroke-width="2" />
<rect x="287.3" y="494.3" width="30.0" height="155.7" fill="#000" />
<line x1="376.7" y1="484.0" x2="376.7" y2="496.7" stroke="#000" stroke-width="2" />
<line x1="373.9" y1="484.0" x2="379.4" y2="484.0" stroke="#000" stroke-width="2" />
<rect x="360.8" y="496.0" width="30.9" height="154.0" fill="#000" />
<line x1="450.0" y1="412.3" x2="450.0" y2="433.0" stroke="#000" stroke-width="2" />
<line x1="447.2" y1="412.3" x2="452.8" y2="412.3" stroke="#000" stroke-width="2" />
<rect x="434.0" y="433.0" width="31.7" height="217.0" fill="#000" />
<text x="229.0" y="382.7" font-size="10" font-weight="bold" font-family='"Liberation Sans", sans-serif' text-anchor="middle" textLength="22.0" lengthAdjust="spacingAndGlyphs" stroke="#000" stroke-width="0.40">N.S.</text>
<text x="302.7" y="477.4" font-size="18" font-weight="bold" font-family='"Liberation Sans", sans-serif' text-anchor="middle" textLength="17.5" lengthAdjust="spacingAndGlyphs" stroke="#000" stroke-width="0.72">**</text>
<text x="376.5" y="485.4" font-size="18" font-weight="bold" font-family='"Liberation Sans", sans-serif' text-anchor="middle" textLength="17.5" lengthAdjust="spacingAndGlyphs" stroke="#000" stroke-width="0.72">**</text>
<text x="450.0" y="414.1" font-size="18" font-weight="bold" font-family='"Liberation Sans", sans-serif' text-anchor="middle" textLength="17.5" lengthAdjust="spacingAndGlyphs" stroke="#000" stroke-width="0.72">**</text>
<text x="105.7" y="674.4" font-size="10.5" font-weight="bold" font-family='"Liberation Sans", sans-serif' text-anchor="end" textLength="64.0" lengthAdjust="spacingAndGlyphs" stroke="#000" stroke-width="0.42">HER2 3' UTR</text>
<text x="105.7" y="696.7" font-size="10.5" font-weight="bold" font-family='"Liberation Sans", sans-serif' text-anchor="end" textLength="38.0" lengthAdjust="spacingAndGlyphs" stroke="#000" stroke-width="0.42">miR-NC</text>
<text x="105.7" y="719.7" font-size="10.5" font-weight="bold" font-family='"Liberation Sans", sans-serif' text-anchor="end" textLength="61.7" lengthAdjust="spacingAndGlyphs" stroke="#000" stroke-width="0.42">miR-331-3p</text>
<text x="105.7" y="742.7" font-size="10.5" font-weight="bold" font-family='"Liberation Sans", sans-serif' text-anchor="end" textLength="65.0" lengthAdjust="spacingAndGlyphs" stroke="#000" stroke-width="0.42">mo-miR-344</text>
<text x="105.7" y="764.9" font-size="10.5" font-weight="bold" font-family='"Liberation Sans", sans-serif' text-anchor="end" textLength="75.0" lengthAdjust="spacingAndGlyphs" stroke="#000" stroke-width="0.42">pCDNA vector</text>
<text x="105.7" y="787.4" font-size="10.5" font-weight="bold" font-family='"Liberation Sans", sans-serif' text-anchor="end" textLength="87.7" lengthAdjust="spacingAndGlyphs" stroke="#000" stroke-width="0.42">pCDNA-HOTAIR</text>
<text x="151.7" y="676.7" font-size="18" font-weight="bold" font-family='"Liberation Sans", sans-serif' text-anchor="middle" stroke="#000" stroke-width="0.72">+</text>
<text x="226.3" y="676.7" font-size="18" font-weight="bold" font-family='"Liberation Sans", sans-serif' text-anchor="middle" stroke="#000" stroke-width="0.72">+</text>
<text x="297.5" y="676.7" font-size="18" font-weight="bold" font-family='"Liberation Sans", sans-serif' text-anchor="middle" stroke="#000" stroke-width="0.72">+</text>
<text x="372.3" y="676.7" font-size="18" font-weight="bold" font-family='"Liberation Sans", sans-serif' text-anchor="middle" stroke="#000" stroke-width="0.72">+</text>
<text x="446.7" y="676.7" font-size="18" font-weight="bold" font-family='"Liberation Sans", sans-serif' text-anchor="middle" stroke="#000" stroke-width="0.72">+</text>
<text x="151.7" y="700.5" font-size="18" font-weight="bold" font-family='"Liberation Sans", sans-serif' text-anchor="middle" stroke="#000" stroke-width="0.72">+</text>
<text x="226.3" y="697.4" font-size="13" font-weight="bold" font-family='"Liberation Sans", sans-serif' text-anchor="middle" stroke="#000" stroke-width="1.2">−</text>
<text x="297.5" y="697.4" font-size="13" font-weight="bold" font-family='"Liberation Sans", sans-serif' text-anchor="middle" stroke="#000" stroke-width="1.2">−</text>
<text x="372.3" y="697.4" font-size="13" font-weight="bold" font-family='"Liberation Sans", sans-serif' text-anchor="middle" stroke="#000" stroke-width="1.2">−</text>
<text x="446.7" y="697.4" font-size="13" font-weight="bold" font-family='"Liberation Sans", sans-serif' text-anchor="middle" stroke="#000" stroke-width="1.2">−</text>
<text x="151.7" y="720.1" font-size="13" font-weight="bold" font-family='"Liberation Sans", sans-serif' text-anchor="middle" stroke="#000" stroke-width="1.2">−</text>
<text x="226.3" y="720.1" font-size="13" font-weight="bold" font-family='"Liberation Sans", sans-serif' text-anchor="middle" stroke="#000" stroke-width="1.2">−</text>
<text x="297.5" y="720.0" font-size="18" font-weight="bold" font-family='"Liberation Sans", sans-serif' text-anchor="middle" stroke="#000" stroke-width="0.72">+</text>
<text x="372.3" y="720.0" font-size="18" font-weight="bold" font-family='"Liberation Sans", sans-serif' text-anchor="middle" stroke="#000" stroke-width="0.72">+</text>
<text x="446.7" y="720.0" font-size="18" font-weight="bold" font-family='"Liberation Sans", sans-serif' text-anchor="middle" stroke="#000" stroke-width="0.72">+</text>
<text x="151.7" y="743.4" font-size="13" font-weight="bold" font-family='"Liberation Sans", sans-serif' text-anchor="middle" stroke="#000" stroke-width="1.2">−</text>
<text x="226.3" y="746.5" font-size="18" font-weight="bold" font-family='"Liberation Sans", sans-serif' text-anchor="middle" stroke="#000" stroke-width="0.72">+</text>
<text x="297.5" y="743.4" font-size="13" font-weight="bold" font-family='"Liberation Sans", sans-serif' text-anchor="middle" stroke="#000" stroke-width="1.2">−</text>
<text x="372.3" y="743.4" font-size="13" font-weight="bold" font-family='"Liberation Sans", sans-serif' text-anchor="middle" stroke="#000" stroke-width="1.2">−</text>
<text x="446.7" y="743.4" font-size="13" font-weight="bold" font-family='"Liberation Sans", sans-serif' text-anchor="middle" stroke="#000" stroke-width="1.2">−</text>
<text x="151.7" y="765.1" font-size="13" font-weight="bold" font-family='"Liberation Sans", sans-serif' text-anchor="middle" stroke="#000" stroke-width="1.2">−</text>
<text x="226.3" y="765.1" font-size="13" font-weight="bold" font-family='"Liberation Sans", sans-serif' text-anchor="middle" stroke="#000" stroke-width="1.2">−</text>
<text x="297.5" y="765.1" font-size="13" font-weight="bold" font-family='"Liberation Sans", sans-serif' text-anchor="middle" stroke="#000" stroke-width="1.2">−</text>
<text x="372.3" y="768.2" font-size="18" font-weight="bold" font-family='"Liberation Sans", sans-serif' text-anchor="middle" stroke="#000" stroke-width="0.72">+</text>
<text x="446.7" y="765.1" font-size="13" font-weight="bold" font-family='"Liberation Sans", sans-serif' text-anchor="middle" stroke="#000" stroke-width="1.2">−</text>
<text x="151.7" y="788.4" font-size="13" font-weight="bold" font-family='"Liberation Sans", sans-serif' text-anchor="middle" stroke="#000" stroke-width="1.2">−</text>
<text x="226.3" y="788.4" font-size="13" font-weight="bold" font-family='"Liberation Sans", sans-serif' text-anchor="middle" stroke="#000" stroke-width="1.2">−</text>
<text x="297.5" y="788.4" font-size="13" font-weight="bold" font-family='"Liberation Sans", sans-serif' text-anchor="middle" stroke="#000" stroke-width="1.2">−</text>
<text x="372.3" y="788.4" font-size="13" font-weight="bold" font-family='"Liberation Sans", sans-serif' text-anchor="middle" stroke="#000" stroke-width="1.2">−</text>
<text x="446.7" y="791.5" font-size="18" font-weight="bold" font-family='"Liberation Sans", sans-serif' text-anchor="middle" stroke="#000" stroke-width="0.72">+</text>
</g>
<g id="panelD">
<text x="493.6" y="344.8" font-size="33.2" font-weight="normal" font-family='"Liberation Sans", sans-serif' textLength="22.2" lengthAdjust="spacingAndGlyphs" stroke="#000" stroke-width="0.7">D</text>
<line x1="576.0" y1="374.6" x2="576.0" y2="587.9" stroke="#000" stroke-width="3" />
<line x1="574.5" y1="586.3" x2="891.7" y2="586.3" stroke="#000" stroke-width="3.3" />
<line x1="569.5" y1="376.0" x2="576.0" y2="376.0" stroke="#000" stroke-width="2.6" />
<text x="568.0" y="381.3" font-size="15" font-weight="normal" font-family='"Liberation Sans", sans-serif' text-anchor="end" textLength="32.4" lengthAdjust="spacingAndGlyphs" stroke="#000" stroke-width="1.1">1000</text>
<line x1="569.5" y1="418.1" x2="576.0" y2="418.1" stroke="#000" stroke-width="2.6" />
<text x="568.0" y="423.4" font-size="15" font-weight="normal" font-family='"Liberation Sans", sans-serif' text-anchor="end" textLength="24.3" lengthAdjust="spacingAndGlyphs" stroke="#000" stroke-width="1.1">800</text>
<line x1="569.5" y1="460.1" x2="576.0" y2="460.1" stroke="#000" stroke-width="2.6" />
<text x="568.0" y="465.4" font-size="15" font-weight="normal" font-family='"Liberation Sans", sans-serif' text-anchor="end" textLength="24.3" lengthAdjust="spacingAndGlyphs" stroke="#000" stroke-width="1.1">600</text>
<line x1="569.5" y1="502.2" x2="576.0" y2="502.2" stroke="#000" stroke-width="2.6" />
<text x="568.0" y="507.5" font-size="15" font-weight="normal" font-family='"Liberation Sans", sans-serif' text-anchor="end" textLength="24.3" lengthAdjust="spacingAndGlyphs" stroke="#000" stroke-width="1.1">400</text>
<line x1="569.5" y1="544.2" x2="576.0" y2="544.2" stroke="#000" stroke-width="2.6" />
<text x="568.0" y="549.5" font-size="15" font-weight="normal" font-family='"Liberation Sans", sans-serif' text-anchor="end" textLength="24.3" lengthAdjust="spacingAndGlyphs" stroke="#000" stroke-width="1.1">200</text>
<line x1="569.5" y1="586.3" x2="576.0" y2="586.3" stroke="#000" stroke-width="2.6" />
<text x="568.0" y="591.6" font-size="15" font-weight="normal" font-family='"Liberation Sans", sans-serif' text-anchor="end" textLength="8.1" lengthAdjust="spacingAndGlyphs" stroke="#000" stroke-width="1.1">0</text>
<line x1="629.3" y1="586.3" x2="629.3" y2="591.3" stroke="#000" stroke-width="2.6" />
<line x1="733.3" y1="586.3" x2="733.3" y2="591.3" stroke="#000" stroke-width="2.6" />
<line x1="838.3" y1="586.3" x2="838.3" y2="591.3" stroke="#000" stroke-width="2.6" />
<line x1="629.9" y1="504.8" x2="629.9" y2="512.7" stroke="#000" stroke-width="3.3" />
<line x1="624.5" y1="504.8" x2="635.2" y2="504.8" stroke="#000" stroke-width="3.3" />
<rect x="620.8" y="514.5" width="18.1" height="71.8" fill="url(#chk4)" stroke="#000" stroke-width="3.6" />
<line x1="658.1" y1="427.2" x2="658.1" y2="433.3" stroke="#000" stroke-width="3.3" />
<line x1="652.8" y1="427.2" x2="663.5" y2="427.2" stroke="#000" stroke-width="3.3" />
<rect x="649.1" y="435.1" width="18.1" height="151.2" fill="url(#stripes)" stroke="#000" stroke-width="3.6" />
<line x1="734.1" y1="409.5" x2="734.1" y2="416.0" stroke="#000" stroke-width="3.3" />
<line x1="728.8" y1="409.5" x2="739.5" y2="409.5" stroke="#000" stroke-width="3.3" />
<rect x="725.1" y="417.8" width="18.1" height="168.5" fill="url(#chk4)" stroke="#000" stroke-width="3.6" />
<line x1="762.5" y1="459.8" x2="762.5" y2="465.0" stroke="#000" stroke-width="3.3" />
<line x1="757.1" y1="459.8" x2="767.9" y2="459.8" stroke="#000" stroke-width="3.3" />
<rect x="753.5" y="466.8" width="18.0" height="119.5" fill="url(#stripes)" stroke="#000" stroke-width="3.6" />
<line x1="838.9" y1="525.5" x2="838.9" y2="529.3" stroke="#000" stroke-width="3.3" />
<line x1="833.5" y1="525.5" x2="844.3" y2="525.5" stroke="#000" stroke-width="3.3" />
<rect x="829.3" y="531.1" width="19.2" height="55.2" fill="url(#chk4)" stroke="#000" stroke-width="3.6" />
<line x1="867.1" y1="507.8" x2="867.1" y2="513.3" stroke="#000" stroke-width="3.3" />
<line x1="861.8" y1="507.8" x2="872.5" y2="507.8" stroke="#000" stroke-width="3.3" />
<rect x="857.6" y="515.1" width="19.1" height="71.2" fill="url(#stripes)" stroke="#000" stroke-width="3.6" />
<rect x="592.0" y="584.3" width="21.0" height="2.0" fill="#000" />
<rect x="696.0" y="584.3" width="21.0" height="2.0" fill="#000" />
<rect x="801.0" y="584.3" width="21.0" height="2.0" fill="#000" />
<text x="600.0" y="607.0" font-size="16" font-weight="normal" font-family='"Liberation Sans", sans-serif' textLength="59.0" lengthAdjust="spacingAndGlyphs" stroke="#000" stroke-width="1.1">HOTAIR</text>
<text x="696.7" y="607.0" font-size="16" font-weight="normal" font-family='"Liberation Sans", sans-serif' textLength="79.3" lengthAdjust="spacingAndGlyphs" stroke="#000" stroke-width="1.1">miR-331-3p</text>
<text x="822.3" y="607.0" font-size="16" font-weight="normal" font-family='"Liberation Sans", sans-serif' textLength="31.0" lengthAdjust="spacingAndGlyphs" stroke="#000" stroke-width="1.1">FOS</text>
<text x="695.7" y="385.2" font-size="18.5" font-weight="normal" font-family='"Liberation Sans", sans-serif' textLength="72.0" lengthAdjust="spacingAndGlyphs" stroke="#000" stroke-width="1.1">BGC-823</text>
<rect x="799.8" y="372.9" width="21.6" height="11.2" fill="url(#igg)" stroke="#000" stroke-width="3.4" rx="2"/>
<text x="827.3" y="383.5" font-size="15.5" font-weight="normal" font-family='"Liberation Sans", sans-serif' textLength="53.7" lengthAdjust="spacingAndGlyphs" stroke="#000" stroke-width="0.7">Anti-IgG</text>
<rect x="799.8" y="396.9" width="21.6" height="11.5" fill="url(#chk4)" stroke="#000" stroke-width="3.4" rx="2"/>
<text x="827.3" y="407.6" font-size="15.5" font-weight="normal" font-family='"Liberation Sans", sans-serif' textLength="71.0" lengthAdjust="spacingAndGlyphs" stroke="#000" stroke-width="0.7">Anti-AGO2</text>
<rect x="799.8" y="420.2" width="21.6" height="12.2" fill="url(#stripes)" stroke="#000" stroke-width="3.4" rx="2"/>
<text x="827.3" y="431.6" font-size="15.5" font-weight="normal" font-family='"Liberation Sans", sans-serif' textLength="32.7" lengthAdjust="spacingAndGlyphs" stroke="#000" stroke-width="0.7">Input</text>
<text x="504.9" y="568.3" font-size="18.3" font-weight="bold" font-family='"Liberation Sans", sans-serif' textLength="183.3" lengthAdjust="spacingAndGlyphs" transform="rotate(-90 504.9 568.3)" stroke="#000" stroke-width="0.2">Relative RNA levels in</text>
<text x="525.8" y="566.7" font-size="18.3" font-weight="bold" font-family='"Liberation Sans", sans-serif' textLength="175.0" lengthAdjust="spacingAndGlyphs" transform="rotate(-90 525.8 566.7)" stroke="#000" stroke-width="0.2">AGO2 RIP vs IgG RIP</text>
<line x1="576.0" y1="632.3" x2="576.0" y2="836.3" stroke="#000" stroke-width="3" />
<line x1="574.5" y1="834.7" x2="818.3" y2="834.7" stroke="#000" stroke-width="3.3" />
<line x1="571.5" y1="634.0" x2="576.0" y2="634.0" stroke="#000" stroke-width="2.6" />
<text x="570.0" y="638.0" font-size="11.5" font-weight="normal" font-family='"Liberation Sans", sans-serif' text-anchor="end" textLength="18.3" lengthAdjust="spacingAndGlyphs" stroke="#000" stroke-width="1.1">300</text>
<line x1="571.5" y1="700.9" x2="576.0" y2="700.9" stroke="#000" stroke-width="2.6" />
<text x="570.0" y="704.9" font-size="11.5" font-weight="normal" font-family='"Liberation Sans", sans-serif' text-anchor="end" textLength="18.3" lengthAdjust="spacingAndGlyphs" stroke="#000" stroke-width="1.1">200</text>
<line x1="571.5" y1="767.8" x2="576.0" y2="767.8" stroke="#000" stroke-width="2.6" />
<text x="570.0" y="771.8" font-size="11.5" font-weight="normal" font-family='"Liberation Sans", sans-serif' text-anchor="end" textLength="18.3" lengthAdjust="spacingAndGlyphs" stroke="#000" stroke-width="1.1">100</text>
<line x1="571.5" y1="834.7" x2="576.0" y2="834.7" stroke="#000" stroke-width="2.6" />
<text x="570.0" y="838.7" font-size="11.5" font-weight="normal" font-family='"Liberation Sans", sans-serif' text-anchor="end" textLength="6.1" lengthAdjust="spacingAndGlyphs" stroke="#000" stroke-width="1.1">0</text>
<line x1="697.7" y1="834.7" x2="697.7" y2="839.7" stroke="#000" stroke-width="2.6" />
<text x="697.7" y="855.0" font-size="13.5" font-weight="normal" font-family='"Liberation Sans", sans-serif' text-anchor="middle" textLength="13.6" lengthAdjust="spacingAndGlyphs" stroke="#000" stroke-width="1.1">U1</text>
<line x1="758.1" y1="654.5" x2="758.1" y2="684.7" stroke="#000" stroke-width="3.5" />
<line x1="733.9" y1="654.5" x2="782.3" y2="654.5" stroke="#000" stroke-width="4" />
<rect x="718.4" y="685.0" width="80.0" height="149.7" fill="url(#chk2)" stroke="#000" stroke-width="3.2" />
<rect x="588.3" y="644.0" width="17.4" height="9.0" fill="url(#igg)" stroke="#000" stroke-width="2.8" rx="1.5"/>
<rect x="588.3" y="666.3" width="17.4" height="10.0" fill="url(#chk2b)" stroke="#000" stroke-width="2.8" rx="1.5"/>
<text x="611.7" y="653.5" font-size="15.5" font-weight="normal" font-family='"Liberation Sans", sans-serif' textLength="53.3" lengthAdjust="spacingAndGlyphs" stroke="#000" stroke-width="0.7">Anti-IgG</text>
<text x="611.7" y="676.2" font-size="15.5" font-weight="normal" font-family='"Liberation Sans", sans-serif' textLength="96.7" lengthAdjust="spacingAndGlyphs" stroke="#000" stroke-width="0.7">Anti-SNRNP70</text>
<text x="530.5" y="813.0" font-size="13" font-weight="bold" font-family='"Liberation Sans", sans-serif' textLength="153.3" lengthAdjust="spacing" transform="rotate(-90 530.5 813.0)" stroke="#000" stroke-width="0.8">Relative RNA levels in</text>
<text x="545.3" y="823.0" font-size="13" font-weight="bold" font-family='"Liberation Sans", sans-serif' textLength="174.3" lengthAdjust="spacing" transform="rotate(-90 545.3 823.0)" stroke="#000" stroke-width="0.8">SNRNP70 RIP vs IgG RIP</text>
</g>
<g id="panelE">
<text x="901.3" y="345.0" font-size="33.2" font-weight="normal" font-family='"Liberation Sans", sans-serif' textLength="21.2" lengthAdjust="spacingAndGlyphs" stroke="#000" stroke-width="0.7">E</text>
<line x1="911.7" y1="387.3" x2="1224.3" y2="387.3" stroke="#000" stroke-width="2.2" />
<line x1="1237.5" y1="387.3" x2="1394.3" y2="387.3" stroke="#000" stroke-width="2.2" />
<text x="1034.3" y="386.0" font-size="13" font-weight="bold" font-family='"Liberation Sans", sans-serif' textLength="55.7" lengthAdjust="spacingAndGlyphs" stroke="#000" stroke-width="0.52">BGC-823</text>
<text x="1284.0" y="386.0" font-size="13" font-weight="bold" font-family='"Liberation Sans", sans-serif' textLength="61.3" lengthAdjust="spacingAndGlyphs" stroke="#000" stroke-width="0.52">SGC-7901</text>
<rect x="1322.6" y="362.6" width="1.4" height="2.4" fill="#000" />
<text x="917.7" y="410.0" font-size="13" font-weight="bold" font-family='"Liberation Sans", sans-serif' textLength="46.3" lengthAdjust="spacingAndGlyphs" stroke="#000" stroke-width="0.25">miR-NC</text>
<text x="990.7" y="410.0" font-size="13" font-weight="bold" font-family='"Liberation Sans", sans-serif' textLength="68.6" lengthAdjust="spacingAndGlyphs" stroke="#000" stroke-width="0.25">miR-331-3p</text>
<text x="1086.7" y="410.0" font-size="13" font-weight="bold" font-family='"Liberation Sans", sans-serif' textLength="32.3" lengthAdjust="spacingAndGlyphs" stroke="#000" stroke-width="0.25">si-NC</text>
<text x="1152.3" y="410.0" font-size="13" font-weight="bold" font-family='"Liberation Sans", sans-serif' textLength="62.7" lengthAdjust="spacingAndGlyphs" stroke="#000" stroke-width="0.25">si-HOTAIR</text>
<text x="1254.3" y="410.0" font-size="13" font-weight="bold" font-family='"Liberation Sans", sans-serif' textLength="35.4" lengthAdjust="spacingAndGlyphs" stroke="#000" stroke-width="0.25">vector</text>
<text x="1306.0" y="408.6" font-size="13" font-weight="bold" font-family='"Liberation Sans", sans-serif' textLength="99.3" lengthAdjust="spacingAndGlyphs" stroke="#000" stroke-width="0.25">PCDNA-HOTAIR</text>
<clipPath id="c908_420"><rect x="908.3" y="420.0" width="149.4" height="21.5"/></clipPath>
<rect x="908.3" y="420.0" width="149.4" height="21.5" fill="#858585" />
<g clip-path="url(#c908_420)" filter="url(#blur12)" fill="#000">
<rect x="907.0" y="423.6" width="79.0" height="17.9" rx="22" ry="8.5"/>
<rect x="984.0" y="427.0" width="75.0" height="10.4" rx="26" ry="5.2"/>
</g>
<rect x="909.4" y="421.1" width="147.2" height="19.3" fill="none" stroke="#000" stroke-width="2.2" />
<clipPath id="c1070_419"><rect x="1070.0" y="419.3" width="161.0" height="22.4"/></clipPath>
<rect x="1070.0" y="419.3" width="161.0" height="22.4" fill="#969696" />
<g clip-path="url(#c1070_419)" filter="url(#blur12)" fill="#000">
<rect x="1071.0" y="425.4" width="82.0" height="10.4" rx="30" ry="5.2"/>
<rect x="1155.5" y="426.6" width="74.5" height="8.0" rx="28" ry="4"/>
<rect x="1128.0" y="433.0" width="7.0" height="8.0" rx="2" ry="2"/>
<rect x="1120.0" y="426.0" width="40.0" height="6.5" rx="10" ry="3"/>
</g>
<rect x="1071.1" y="420.4" width="158.8" height="20.2" fill="none" stroke="#000" stroke-width="2.2" />
<clipPath id="c1238_417"><rect x="1238.5" y="417.3" width="153.5" height="22.4"/></clipPath>
<rect x="1238.5" y="417.3" width="153.5" height="22.4" fill="#8c8c8c" />
<g clip-path="url(#c1238_417)" filter="url(#blur12)" fill="#000">
<rect x="1242.0" y="423.0" width="73.0" height="10.8" rx="30" ry="5.4"/>
<rect x="1315.0" y="422.2" width="76.5" height="14.0" rx="32" ry="7"/>
</g>
<rect x="1239.6" y="418.4" width="151.3" height="20.2" fill="none" stroke="#000" stroke-width="2.2" />
<clipPath id="c908_451"><rect x="908.3" y="451.0" width="148.7" height="23.3"/></clipPath>
<rect x="908.3" y="451.0" width="148.7" height="23.3" fill="#909090" />
<g clip-path="url(#c908_451)" filter="url(#blur12)" fill="#000">
<path d="M907,454.3 H1058 V466 Q1050,472.4 1038,472.4 H1006 Q996,472 986,461.5 Q976,472 966,472.4 H934 Q920,472 907,459 Z"/>
</g>
<rect x="909.4" y="452.1" width="146.5" height="21.1" fill="none" stroke="#000" stroke-width="2.2" />
<clipPath id="c1071_448"><rect x="1071.0" y="448.6" width="160.0" height="25.4"/></clipPath>
<rect x="1071.0" y="448.6" width="160.0" height="25.4" fill="#969696" />
<g clip-path="url(#c1071_448)" filter="url(#blur12)" fill="#000">
<path d="M1071,449 L1100,452 L1148,455.5 L1185,456.5 L1228,455.5 Q1232,458 1226,464 Q1212,473.5 1192,473.5 H1172 Q1158,472 1148,463.5 Q1140,469.5 1128,469.8 H1098 Q1084,468 1072,458 Z"/>
</g>
<rect x="1072.1" y="449.7" width="157.8" height="23.2" fill="none" stroke="#000" stroke-width="2.2" />
<clipPath id="c1238_447"><rect x="1238.5" y="447.3" width="152.5" height="25.4"/></clipPath>
<rect x="1238.5" y="447.3" width="152.5" height="25.4" fill="#8e8e8e" />
<g clip-path="url(#c1238_447)" filter="url(#blur12)" fill="#000">
<path d="M1242,451.7 H1315.5 V456 Q1312,470 1279,470 Q1246,470 1242,456 Z"/>
<path d="M1318,453 H1387 V457 Q1383,469.2 1352,469.2 Q1322,469.2 1318,457 Z"/>
</g>
<rect x="1239.6" y="448.4" width="150.3" height="23.2" fill="none" stroke="#000" stroke-width="2.2" />
<text x="1400.3" y="434.3" font-size="13" font-weight="bold" font-family='"Liberation Sans", sans-serif' textLength="32.7" lengthAdjust="spacingAndGlyphs" stroke="#000" stroke-width="0.52">HER2</text>
<clipPath id="cg"><rect x="1390" y="440" width="55.6" height="40"/></clipPath>
<text x="1400.3" y="465.0" font-size="13" font-weight="bold" font-family='"Liberation Sans", sans-serif' textLength="47.5" lengthAdjust="spacingAndGlyphs" stroke="#000" stroke-width="0.52" clip-path="url(#cg)">GAPDH</text>
<line x1="960.7" y1="494.5" x2="960.7" y2="733.9" stroke="#000" stroke-width="2.4" />
<line x1="959.5" y1="732.7" x2="1311.5" y2="732.7" stroke="#000" stroke-width="2.5" />
<line x1="960.7" y1="495.3" x2="964.3" y2="495.3" stroke="#000" stroke-width="1.8" />
<text x="949.7" y="499.0" font-size="10.5" font-weight="bold" font-family='"Liberation Sans", sans-serif' text-anchor="end" textLength="15.5" lengthAdjust="spacingAndGlyphs" stroke="#000" stroke-width="0.42">3.5</text>
<line x1="960.7" y1="529.2" x2="964.3" y2="529.2" stroke="#000" stroke-width="1.8" />
<text x="949.7" y="532.9" font-size="10.5" font-weight="bold" font-family='"Liberation Sans", sans-serif' text-anchor="end" textLength="6.0" lengthAdjust="spacingAndGlyphs" stroke="#000" stroke-width="0.42">3</text>
<line x1="960.7" y1="563.1" x2="964.3" y2="563.1" stroke="#000" stroke-width="1.8" />
<text x="949.7" y="566.8" font-size="10.5" font-weight="bold" font-family='"Liberation Sans", sans-serif' text-anchor="end" textLength="15.5" lengthAdjust="spacingAndGlyphs" stroke="#000" stroke-width="0.42">2.5</text>
<line x1="960.7" y1="597.0" x2="964.3" y2="597.0" stroke="#000" stroke-width="1.8" />
<text x="949.7" y="600.7" font-size="10.5" font-weight="bold" font-family='"Liberation Sans", sans-serif' text-anchor="end" textLength="6.0" lengthAdjust="spacingAndGlyphs" stroke="#000" stroke-width="0.42">2</text>
<line x1="960.7" y1="630.9" x2="964.3" y2="630.9" stroke="#000" stroke-width="1.8" />
<text x="949.7" y="634.6" font-size="10.5" font-weight="bold" font-family='"Liberation Sans", sans-serif' text-anchor="end" textLength="15.5" lengthAdjust="spacingAndGlyphs" stroke="#000" stroke-width="0.42">1.5</text>
<line x1="960.7" y1="664.9" x2="964.3" y2="664.9" stroke="#000" stroke-width="1.8" />
<text x="949.7" y="668.6" font-size="10.5" font-weight="bold" font-family='"Liberation Sans", sans-serif' text-anchor="end" textLength="6.0" lengthAdjust="spacingAndGlyphs" stroke="#000" stroke-width="0.42">1</text>
<line x1="960.7" y1="698.8" x2="964.3" y2="698.8" stroke="#000" stroke-width="1.8" />
<text x="949.7" y="702.5" font-size="10.5" font-weight="bold" font-family='"Liberation Sans", sans-serif' text-anchor="end" textLength="15.5" lengthAdjust="spacingAndGlyphs" stroke="#000" stroke-width="0.42">0.5</text>
<line x1="960.7" y1="732.7" x2="964.3" y2="732.7" stroke="#000" stroke-width="1.8" />
<text x="949.7" y="736.4" font-size="10.5" font-weight="bold" font-family='"Liberation Sans", sans-serif' text-anchor="end" textLength="6.0" lengthAdjust="spacingAndGlyphs" stroke="#000" stroke-width="0.42">0</text>
<line x1="1019.1" y1="732.7" x2="1019.1" y2="727.9" stroke="#000" stroke-width="2" />
<line x1="1077.4" y1="732.7" x2="1077.4" y2="727.9" stroke="#000" stroke-width="2" />
<line x1="1135.8" y1="732.7" x2="1135.8" y2="727.9" stroke="#000" stroke-width="2" />
<line x1="1194.1" y1="732.7" x2="1194.1" y2="727.9" stroke="#000" stroke-width="2" />
<line x1="1252.5" y1="732.7" x2="1252.5" y2="727.9" stroke="#000" stroke-width="2" />
<line x1="1310.8" y1="732.7" x2="1310.8" y2="727.9" stroke="#000" stroke-width="2" />
<rect x="978.3" y="665.7" width="21.7" height="67.0" fill="#fff" stroke="#000" stroke-width="2" />
<rect x="1095.0" y="665.7" width="21.7" height="67.0" fill="#fff" stroke="#000" stroke-width="2" />
<rect x="1211.0" y="665.7" width="22.3" height="67.0" fill="#fff" stroke="#000" stroke-width="2" />
<line x1="1047.0" y1="703.3" x2="1047.0" y2="706.7" stroke="#000" stroke-width="2" />
<line x1="1044.5" y1="703.3" x2="1049.5" y2="703.3" stroke="#000" stroke-width="2" />
<rect x="1035.0" y="706.7" width="24.0" height="26.0" fill="#000" />
<line x1="1163.7" y1="697.3" x2="1163.7" y2="700.0" stroke="#000" stroke-width="2" />
<line x1="1161.2" y1="697.3" x2="1166.2" y2="697.3" stroke="#000" stroke-width="2" />
<rect x="1151.7" y="700.0" width="24.0" height="32.7" fill="#000" />
<line x1="1280.2" y1="528.3" x2="1280.2" y2="550.0" stroke="#000" stroke-width="2" />
<line x1="1277.7" y1="528.3" x2="1282.7" y2="528.3" stroke="#000" stroke-width="2" />
<rect x="1268.0" y="550.0" width="24.3" height="182.7" fill="#000" />
<text x="1046.5" y="706.1" font-size="20" font-weight="bold" font-family='"Liberation Sans", sans-serif' text-anchor="middle" stroke="#000" stroke-width="0.80">*</text>
<text x="1163.3" y="698.1" font-size="20" font-weight="bold" font-family='"Liberation Sans", sans-serif' text-anchor="middle" textLength="18.0" lengthAdjust="spacingAndGlyphs" stroke="#000" stroke-width="0.80">**</text>
<text x="1279.5" y="530.1" font-size="18" font-weight="bold" font-family='"Liberation Sans", sans-serif' text-anchor="middle" textLength="15.6" lengthAdjust="spacingAndGlyphs" stroke="#000" stroke-width="0.72">**</text>
<text x="1046.0" y="508.3" font-size="13.5" font-weight="bold" font-family='"Liberation Sans", sans-serif' textLength="59.5" lengthAdjust="spacingAndGlyphs" stroke="#000" stroke-width="0.54">BGC-823</text>
<line x1="976.7" y1="511.7" x2="1177.0" y2="511.7" stroke="#000" stroke-width="2.3" />
<text x="1217.0" y="508.3" font-size="13.5" font-weight="bold" font-family='"Liberation Sans", sans-serif' textLength="67.3" lengthAdjust="spacingAndGlyphs" stroke="#000" stroke-width="0.54">SGC-7901</text>
<line x1="1209.3" y1="511.7" x2="1294.0" y2="511.7" stroke="#000" stroke-width="2.3" />
<text x="987.0" y="755.6" font-size="10.5" font-weight="bold" font-family='"Liberation Sans", sans-serif' text-anchor="middle" textLength="44.0" lengthAdjust="spacingAndGlyphs" stroke="#000" stroke-width="0.42">miR-NC</text>
<text x="1047.7" y="755.6" font-size="10.5" font-weight="bold" font-family='"Liberation Sans", sans-serif' text-anchor="middle" textLength="53.3" lengthAdjust="spacingAndGlyphs" stroke="#000" stroke-width="0.42">miR-331-</text>
<text x="1047.5" y="771.5" font-size="10.5" font-weight="bold" font-family='"Liberation Sans", sans-serif' text-anchor="middle" textLength="15.0" lengthAdjust="spacingAndGlyphs" stroke="#000" stroke-width="0.42">3p</text>
<text x="1105.0" y="755.6" font-size="10.5" font-weight="bold" font-family='"Liberation Sans", sans-serif' text-anchor="middle" textLength="32.0" lengthAdjust="spacingAndGlyphs" stroke="#000" stroke-width="0.42">si-NC</text>
<text x="1165.0" y="755.6" font-size="10.5" font-weight="bold" font-family='"Liberation Sans", sans-serif' text-anchor="middle" textLength="13.3" lengthAdjust="spacingAndGlyphs" stroke="#000" stroke-width="0.42">si-</text>
<text x="1161.3" y="771.5" font-size="10.5" font-weight="bold" font-family='"Liberation Sans", sans-serif' text-anchor="middle" textLength="46.0" lengthAdjust="spacingAndGlyphs" stroke="#000" stroke-width="0.42">HOTAIR</text>
<text x="1222.0" y="755.6" font-size="10.5" font-weight="bold" font-family='"Liberation Sans", sans-serif' text-anchor="middle" textLength="37.3" lengthAdjust="spacingAndGlyphs" stroke="#000" stroke-width="0.42">Vector</text>
<text x="1281.0" y="755.6" font-size="10.5" font-weight="bold" font-family='"Liberation Sans", sans-serif' text-anchor="middle" textLength="50.0" lengthAdjust="spacingAndGlyphs" stroke="#000" stroke-width="0.42">pCDNA-</text>
<text x="1280.0" y="771.5" font-size="10.5" font-weight="bold" font-family='"Liberation Sans", sans-serif' text-anchor="middle" textLength="46.7" lengthAdjust="spacingAndGlyphs" stroke="#000" stroke-width="0.42">HOTAIR</text>
<text x="920.7" y="713.5" font-size="10.5" font-weight="bold" font-family='"Liberation Sans", sans-serif' textLength="199.0" lengthAdjust="spacingAndGlyphs" transform="rotate(-90 920.7 713.5)" stroke="#000" stroke-width="0.42">Relative Hey-2 protein expression</text>
</g>
</svg>
</body></html>
